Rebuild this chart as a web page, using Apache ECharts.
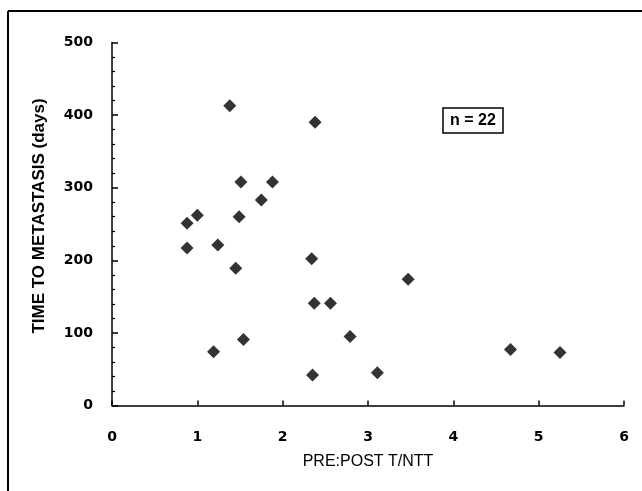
<!DOCTYPE html>
<html>
<head>
<meta charset="utf-8">
<script src="https://cdn.jsdelivr.net/npm/echarts@6/dist/echarts.min.js"></script>
<style>
  html, body { margin: 0; padding: 0; background: #fff; }
  #chart { width: 642px; height: 491px; }
</style>
</head>
<body>
<div id="chart"></div>
<script>
// ratio of pre/post T/NTT vs days to metastasis
const ratio = [1.38, 2.38, 1.51, 1.88, 1.75, 1.00, 1.49, 0.88, 0.88, 1.24, 1.45,
               2.34, 2.37, 2.56, 3.47, 1.19, 1.54, 2.35, 2.79, 3.11, 4.67, 5.25];
const days = [413, 390, 308, 308, 283, 262, 260, 251, 217, 221, 189,
              202, 141, 141, 174, 74, 91, 42, 95, 45, 77, 73];
const xTicks = [0, 1, 2, 3, 4, 5, 6];
const yTicks = [0, 100, 200, 300, 400, 500];
const note = "n = 22";

const points = ratio.map((r, i) => [r, days[i]]);

const chart = echarts.init(document.getElementById("chart"));

const tickFont = {
  color: "#000",
  fontFamily: "DejaVu Sans",
  fontWeight: "bold",
  fontSize: 14,
};

chart.setOption({
  animation: false,
  backgroundColor: "#fff",
  grid: { left: 112, right: 18, top: 42.5, bottom: 85.5 },
  xAxis: {
    type: "value",
    min: xTicks[0],
    max: xTicks[xTicks.length - 1],
    interval: 1,
    name: "PRE:POST T/NTT",
    nameLocation: "middle",
    nameGap: 48,
    nameTextStyle: { color: "#000", fontFamily: "Liberation Sans", fontSize: 16 },
    axisLine: { lineStyle: { color: "#000", width: 1.5 } },
    axisTick: { inside: true, length: 5, lineStyle: { color: "#000", width: 1.5 } },
    axisLabel: Object.assign({ margin: 25 }, tickFont),
    splitLine: { show: false },
  },
  yAxis: {
    type: "value",
    min: yTicks[0],
    max: yTicks[yTicks.length - 1],
    interval: 100,
    name: "TIME TO METASTASIS (days)",
    nameLocation: "middle",
    nameGap: 64,
    nameTextStyle: {
      color: "#000",
      fontFamily: "Liberation Sans",
      fontWeight: "bold",
      fontSize: 17,
      padding: [0, 0, 0, 16],
    },
    axisLine: { show: true, lineStyle: { color: "#000", width: 1.5 } },
    axisTick: { show: true, inside: true, length: 6, lineStyle: { color: "#000", width: 1.5 } },
    minorTick: { show: true, splitNumber: 5, length: 3, lineStyle: { color: "#000", width: 1.2 } },
    axisLabel: Object.assign({ margin: 19 }, tickFont),
    splitLine: { show: false },
  },
  series: [
    {
      type: "scatter",
      data: points,
      symbol: "diamond",
      symbolSize: [13, 13],
      itemStyle: { color: "#000" },
    },
  ],
  graphic: [
    // outer frame (top and left edges)
    { type: "line", shape: { x1: 8, y1: 11, x2: 642, y2: 11 }, style: { stroke: "#000", lineWidth: 2 } },
    { type: "line", shape: { x1: 8, y1: 11, x2: 8, y2: 491 }, style: { stroke: "#000", lineWidth: 2 } },
    // n label box
    {
      type: "rect",
      shape: { x: 443, y: 108, width: 60, height: 25 },
      style: { fill: "#fff", stroke: "#000", lineWidth: 1.5 },
    },
    {
      type: "text",
      x: 473,
      y: 120.5,
      style: {
        text: note,
        fill: "#000",
        font: "bold 16px 'Liberation Sans'",
        textAlign: "center",
        textVerticalAlign: "middle",
      },
    },
  ],
});

window.addEventListener("resize", () => chart.resize());
</script>
</body>
</html>
